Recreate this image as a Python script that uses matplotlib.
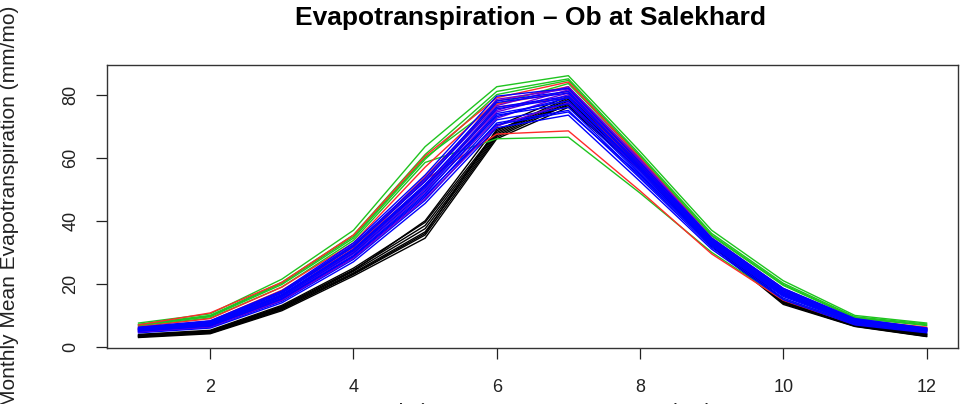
import matplotlib
matplotlib.use("Agg")
import matplotlib.pyplot as plt
import numpy as np

plt.rcParams['font.family'] = ['Liberation Sans', 'DejaVu Sans']

months = list(range(1, 13))

# Monthly mean evapotranspiration (mm/mo) per simulation, grouped by ensemble
black_runs = [
    [3.0, 4.2, 11.5, 22.5, 34.5, 66.0, 76.0, 56.0, 32.0, 13.5, 6.5, 3.3],
    [3.2, 4.5, 12.0, 23.0, 35.5, 66.5, 77.0, 56.5, 32.5, 14.0, 6.8, 3.5],
    [3.4, 4.7, 12.3, 23.5, 36.5, 67.0, 77.5, 57.0, 33.0, 14.2, 7.0, 3.7],
    [3.6, 4.9, 12.6, 24.0, 37.5, 67.5, 78.0, 57.5, 33.3, 14.5, 7.2, 3.9],
    [3.8, 5.1, 12.9, 24.5, 38.5, 68.0, 78.5, 58.0, 33.7, 14.8, 7.4, 4.1],
    [4.0, 5.3, 13.2, 25.0, 39.5, 68.5, 79.0, 58.5, 34.0, 15.0, 7.6, 4.3],
    [3.3, 4.4, 11.8, 23.2, 36.0, 69.0, 76.5, 56.2, 32.2, 13.8, 6.6, 3.4],
    [3.7, 5.0, 12.5, 24.2, 40.0, 70.0, 79.5, 58.2, 33.5, 14.6, 7.3, 4.0],
]

green_runs = [
    [7.6, 10.5, 21.5, 37.0, 63.5, 82.5, 86.0, 62.0, 37.0, 21.0, 10.0, 7.6],
    [7.2, 10.0, 20.5, 35.5, 61.0, 81.0, 85.0, 61.0, 36.0, 20.2, 9.6, 7.3],
    [6.9, 9.6, 19.8, 34.5, 59.5, 80.0, 84.5, 60.5, 35.5, 19.8, 9.3, 7.0],
    [7.0, 9.8, 20.2, 35.0, 60.0, 77.0, 83.5, 60.0, 35.2, 19.5, 9.2, 6.8],
    [6.7, 9.2, 19.0, 33.8, 58.5, 66.0, 66.5, 48.8, 30.0, 15.0, 7.8, 5.6],
]

red_runs = [
    [7.0, 10.8, 20.5, 35.5, 60.5, 79.0, 84.0, 60.0, 34.5, 18.5, 8.6, 6.3],
    [6.0, 8.2, 18.0, 31.5, 54.0, 77.0, 81.0, 58.5, 33.5, 17.8, 8.2, 6.0],
    [5.5, 7.5, 16.5, 30.0, 51.0, 76.0, 79.0, 57.5, 33.0, 17.2, 8.0, 5.8],
    [6.4, 9.0, 19.0, 33.0, 57.0, 78.0, 82.5, 59.2, 34.0, 18.0, 8.4, 6.1],
    [5.8, 8.0, 17.5, 31.0, 53.0, 67.5, 68.5, 49.5, 29.5, 14.8, 7.2, 5.2],
]

purple_runs = [
    [5.2, 7.0, 15.5, 29.5, 49.0, 72.5, 80.0, 58.0, 33.5, 17.5, 8.3, 5.3],
    [5.6, 7.6, 16.5, 31.0, 51.5, 75.0, 81.5, 58.8, 34.0, 18.0, 8.6, 5.6],
    [6.0, 8.2, 17.5, 32.5, 53.0, 76.5, 82.5, 59.5, 34.6, 18.5, 8.9, 5.9],
    [4.8, 6.4, 14.8, 28.2, 47.0, 70.0, 77.5, 56.0, 33.0, 16.8, 8.0, 5.0],
    [5.4, 7.3, 16.0, 30.2, 50.0, 74.5, 80.5, 57.5, 33.6, 17.6, 8.4, 5.4],
    [5.8, 7.9, 17.2, 32.0, 52.5, 78.5, 81.8, 59.0, 34.3, 18.3, 8.7, 5.8],
]

blue_runs = [
    [4.5, 6.0, 14.0, 27.0, 45.5, 69.5, 73.5, 52.5, 31.0, 15.0, 7.0, 4.5],
    [4.7, 6.3, 14.5, 27.8, 46.5, 71.0, 75.0, 53.5, 31.5, 15.5, 7.3, 4.7],
    [4.9, 6.5, 15.0, 28.5, 47.5, 72.0, 76.0, 54.0, 32.0, 16.0, 7.6, 4.9],
    [5.1, 6.8, 15.3, 29.0, 48.5, 73.5, 77.0, 54.8, 32.3, 16.3, 7.8, 5.0],
    [5.3, 7.0, 15.8, 29.8, 49.5, 74.0, 78.0, 55.3, 32.7, 16.7, 8.0, 5.2],
    [5.5, 7.2, 16.2, 30.5, 50.5, 75.5, 79.0, 56.0, 33.0, 17.0, 8.2, 5.4],
    [5.7, 7.5, 16.6, 31.0, 51.5, 76.0, 79.5, 56.5, 33.4, 17.4, 8.4, 5.5],
    [5.9, 7.8, 17.0, 31.8, 52.5, 77.5, 80.5, 57.2, 33.8, 17.8, 8.6, 5.7],
    [6.1, 8.0, 17.4, 32.3, 53.5, 78.0, 81.0, 57.8, 34.1, 18.2, 8.8, 5.9],
    [6.3, 8.3, 17.8, 33.0, 54.5, 79.5, 82.0, 58.5, 34.5, 18.6, 9.0, 6.0],
    [5.0, 6.6, 15.2, 28.8, 48.0, 70.5, 74.5, 54.5, 32.5, 16.5, 7.9, 5.1],
    [5.6, 7.4, 16.4, 30.8, 51.0, 73.0, 79.0, 56.8, 33.2, 17.2, 8.3, 5.5],
]

BLACK, GREEN, RED, BLUE, PURPLE = "black", "#1fc41f", "#ff2a2a", "#0000ff", "#6a00d8"

yticks = [0, 20, 40, 60, 80]
xticks = [2, 4, 6, 8, 10, 12]

fig = plt.figure(figsize=(9.6, 4.04), dpi=100)
ax = fig.add_axes([0.1115, 0.1386, 0.8865, 0.700])

lw = 1.0
for run in black_runs:
    ax.plot(months, run, color=BLACK, lw=lw)
for run in green_runs:
    ax.plot(months, run, color=GREEN, lw=lw)
for run in red_runs:
    ax.plot(months, run, color=RED, lw=lw)
# blue and purple members are drawn interleaved
for i in range(max(len(blue_runs), len(purple_runs))):
    if i < len(purple_runs):
        ax.plot(months, purple_runs[i], color=PURPLE, lw=lw)
    if i < len(blue_runs):
        ax.plot(months, blue_runs[i], color=BLUE, lw=lw)

# R-style 4% padding around the data range
allvals = np.array(black_runs + green_runs + red_runs + purple_runs + blue_runs)
ypad = 0.04 * (allvals.max() - allvals.min())
ax.set_ylim(allvals.min() - ypad, allvals.max() + ypad)
xpad = 0.04 * (months[-1] - months[0])
ax.set_xlim(months[0] - xpad, months[-1] + xpad)

ax.set_xticks(xticks)
ax.set_yticks(yticks)
ax.set_yticklabels([str(t) for t in yticks], rotation=90, va="center")
ax.tick_params(axis="both", direction="out", length=8, width=0.9,
               labelsize=13, colors="#222222")
ax.tick_params(axis="x", pad=14)
ax.tick_params(axis="y", pad=12)
for s in ax.spines.values():
    s.set_linewidth(1.0)
    s.set_color("#333333")

fig.text(0.553, 1 - 18 / 404, "Evapotranspiration \u2013 Ob at Salekhard",
         fontsize=19, fontweight="bold", ha="center", va="center")
fig.text(10 / 960, 0.49, "Monthly Mean Evapotranspiration (mm/mo)",
         fontsize=15, rotation=90, ha="center", va="center", color="#222222")
fig.text(0.553, -9 / 404, "Month (1 = January, 12 = December)",
         fontsize=16, ha="center", va="center", color="#222222")

fig.savefig("out.png", dpi=100)
